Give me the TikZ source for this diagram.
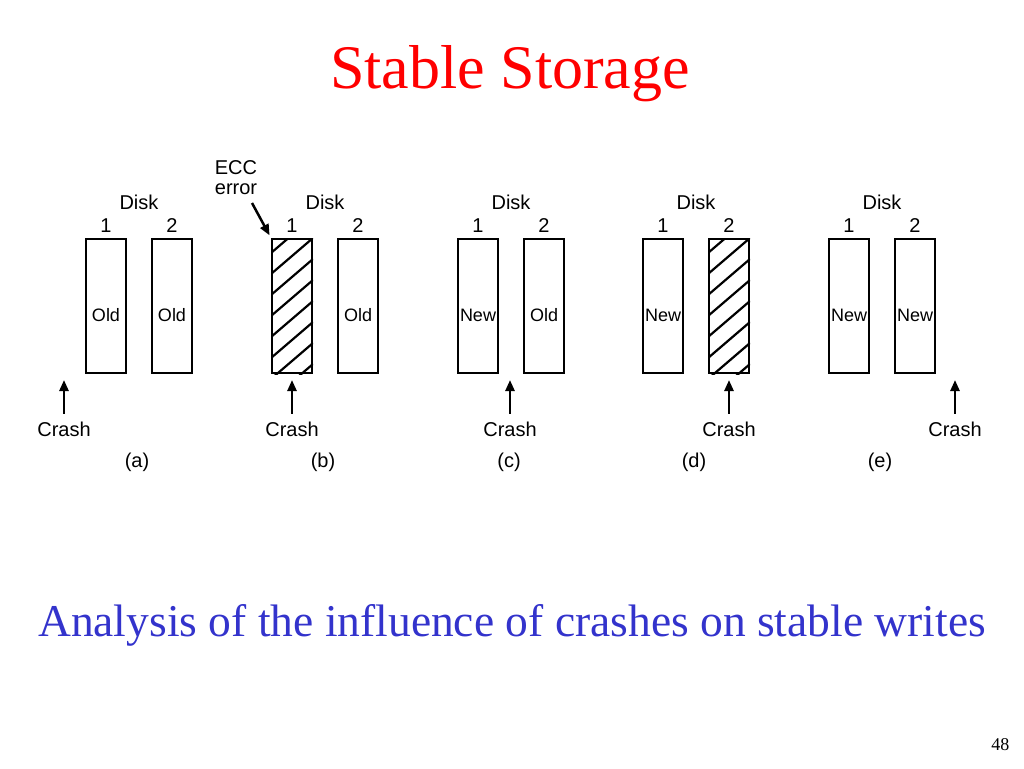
\documentclass[tikz,border=0pt]{standalone}
\usepackage{fontspec}
\setmainfont{Liberation Serif}
\newfontfamily\figsans{Liberation Sans}
\definecolor{ssRed}{HTML}{FF0000}
\definecolor{ssBlue}{HTML}{3333CC}
\usetikzlibrary{calc,positioning,arrows.meta}

\tikzset{
  diskbox/.style={draw, line width=2pt, minimum width=40pt, minimum height=134pt, inner sep=0pt},
  disklabel/.style={font=\figsans\fontsize{20}{20}\selectfont, inner sep=0pt},
  boxtext/.style={font=\figsans\fontsize{18}{20}\selectfont, inner sep=0pt},
  crasharrow/.style={line width=2.5pt, -{Triangle[length=11pt,width=9pt]}},
  hatchline/.style={line width=2.2pt},
}

\begin{document}
\begin{tikzpicture}[x=1pt,y=-1pt]
  \useasboundingbox (0,0) rectangle (1024,768);
  \node[font=\fontsize{62}{66}\selectfont, text=ssRed, anchor=base] (title) at (510,88) {Stable Storage};

  % the five cases
  \foreach \p/\L/\ta/\tb/\ax in {a/85/Old/Old/-21, b/271//Old/21, c/457/New/Old/53, d/642/New//87, e/828/New/New/127} {
    \node[diskbox, label={[boxtext,yshift=-9pt]center:\ta}] (\p1) at (\L+21,306) {};
    \node[diskbox, label={[boxtext,yshift=-9pt]center:\tb}] (\p2) at (\L+87,306) {};
    \node[disklabel, above=5pt of \p1] (\p1num) {1};
    \node[disklabel, above=5pt of \p2] (\p2num) {2};
    \coordinate (top\p) at ($(\p1.north)!.5!(\p2.north)$);
    \node[disklabel, above=28pt of top\p] (disk\p) {Disk};
    \node[disklabel, anchor=base] (crash\p) at (\L+\ax,436.5) {Crash};
    \coordinate (tip\p) at (\L+\ax,380);
    \draw[crasharrow, shorten <=8pt] (crash\p.north) -- (tip\p);
    \node[disklabel, anchor=base] (case\p) at (\L+52,467) {(\p)};
  }

  % bad sectors
  \foreach \h in {b1,d2} {
    \begin{scope}
      \clip (\h.north west) rectangle (\h.south east);
      \foreach \k in {-1,...,7}
        \draw[hatchline] ($(\h.north west)+(0,15+\k*21)$) -- ++(42,-36);
    \end{scope}
  }

  \node[disklabel, align=center, anchor=south] (ecc) at (236,195) {ECC\\error};
  \coordinate (eccTail) at (252,203);
  \draw[crasharrow, shorten >=3pt] (eccTail) -- (b1.north west);

  \node[font=\fontsize{45.5}{50}\selectfont, text=ssBlue, anchor=base] (caption) at (512,636) {Analysis of the influence of crashes on stable writes};
  \node[font=\fontsize{18}{20}\selectfont, anchor=base east] (page) at (1013,750) {48};
\end{tikzpicture}
\end{document}
